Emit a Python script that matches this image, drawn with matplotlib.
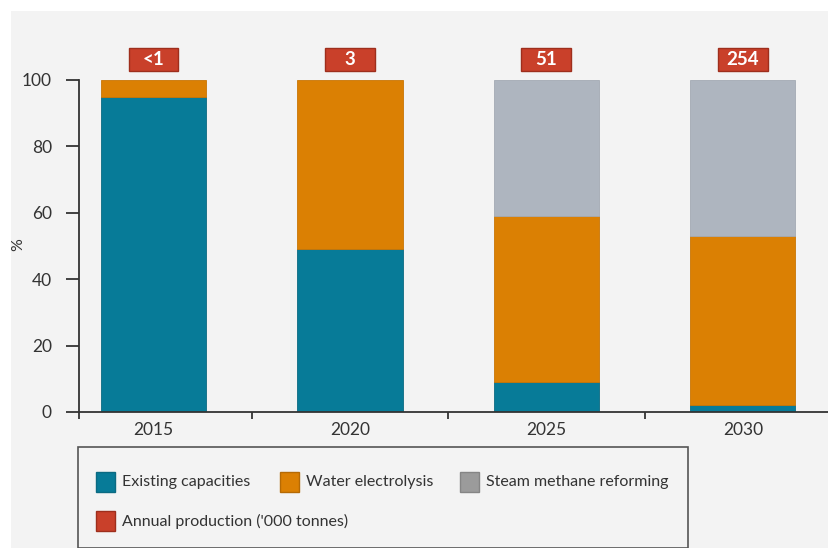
import matplotlib
matplotlib.use("Agg")
import matplotlib.pyplot as plt
from matplotlib.patches import Rectangle

plt.rcParams["font.family"] = ["Lato", "DejaVu Sans"]

years = ["2015", "2020", "2025", "2030"]
existing = [95, 49, 9, 2]
electrolysis = [5, 51, 50, 51]
smr = [0, 0, 41, 47]
production_labels = ["<1", "3", "51", "254"]

series_names = ["Existing capacities", "Water electrolysis", "Steam methane reforming"]
legend_extra = "Annual production ('000 tonnes)"

C_EXIST = "#077b98"
C_ELEC = "#db8003"
C_SMR = "#aeb5bf"
C_SMR_KEY = "#9b9b9b"
C_PROD = "#c9402a"
C_PROD_EDGE = "#9e2e1c"
BG = "#f3f3f3"
INK = "#333333"

W, H = 829, 548
fig = plt.figure(figsize=(W / 100, H / 100), dpi=100)
fig.patch.set_facecolor("white")


def fx(x):
    return x / W


def fy(y):
    return 1 - y / H


# light panel behind everything
fig.patches.append(Rectangle((fx(11), 0), 1 - fx(11), fy(11), transform=fig.transFigure,
                             facecolor=BG, edgecolor="none", zorder=-5))

ax_left, ax_right, ax_top, ax_bottom = 79, 829, 80, 412
ax = fig.add_axes([fx(ax_left), fy(ax_bottom), fx(ax_right - ax_left), (ax_bottom - ax_top) / H])
ax.set_facecolor("none")
ax.set_zorder(2)


def edge_widths(values):
    return [0 if v == 0 else 0.6 for v in values]


xs = list(range(len(years)))
bw = 0.535
ax.bar(xs, existing, width=bw, color=C_EXIST, edgecolor="#0b6a82",
       linewidth=edge_widths(existing))
ax.bar(xs, electrolysis, width=bw, bottom=existing, color=C_ELEC, edgecolor="#c97606",
       linewidth=edge_widths(electrolysis))
base2 = [a + b for a, b in zip(existing, electrolysis)]
ax.bar(xs, smr, width=bw, bottom=base2, color=C_SMR, edgecolor="#a3aab3",
       linewidth=edge_widths(smr))

ax.set_ylim(0, 100)
ax.set_xlim(-0.379, 3.438)

for side in ("top", "right"):
    ax.spines[side].set_visible(False)
for side in ("left", "bottom"):
    ax.spines[side].set_color(INK)
    ax.spines[side].set_linewidth(1.3)

ax.set_yticks([0, 20, 40, 60, 80, 100])
ax.tick_params(axis="y", direction="out", length=9.5, width=1.3, color=INK,
               labelsize=12.5, labelcolor=INK, pad=10)

ax.set_xticks(xs)
ax.set_xticklabels(years)
ax.tick_params(axis="x", which="major", length=0, pad=7, labelsize=12.5, labelcolor=INK)
ax.set_xticks([-0.379, 0.5, 1.5, 2.5], minor=True)
ax.tick_params(axis="x", which="minor", direction="out", length=5, width=1.3, color=INK)

fig.text(fx(18), fy(245), "%", rotation=90, ha="center", va="center", fontsize=11.5, color=INK)

# annual production boxes above each bar
box_w, box_h = 0.254, 6.9
for x, lab in zip(xs, production_labels):
    ax.add_patch(Rectangle((x - box_w / 2, 102.7), box_w, box_h, facecolor=C_PROD,
                           edgecolor=C_PROD_EDGE, linewidth=1.0, clip_on=False))
    ax.text(x, 102.7 + box_h / 2, lab, ha="center", va="center", color="white",
            fontsize=13.5, fontweight="bold", clip_on=False)

# legend panel
fig.patches.append(Rectangle((fx(78), 0), fx(688 - 78), fy(447), transform=fig.transFigure,
                             facecolor="none", edgecolor="#555555", linewidth=1.2, zorder=3))

key_w, key_h = 19, 20
entries = [
    (96, 482, C_EXIST, "#0b6a82", series_names[0]),
    (280, 482, C_ELEC, "#b56a05", series_names[1]),
    (460, 482, C_SMR_KEY, "#858585", series_names[2]),
    (96, 521, C_PROD, C_PROD_EDGE, legend_extra),
]
for x0, yc, fc, ec, label in entries:
    fig.patches.append(Rectangle((fx(x0), fy(yc + key_h / 2)), fx(key_w), key_h / H,
                                 transform=fig.transFigure, facecolor=fc, edgecolor=ec,
                                 linewidth=1.0, zorder=4))
    fig.text(fx(x0 + key_w + 7), fy(yc), label, ha="left", va="center",
             fontsize=11.5, color=INK)

fig.savefig("out.png", dpi=100, facecolor=fig.get_facecolor())
